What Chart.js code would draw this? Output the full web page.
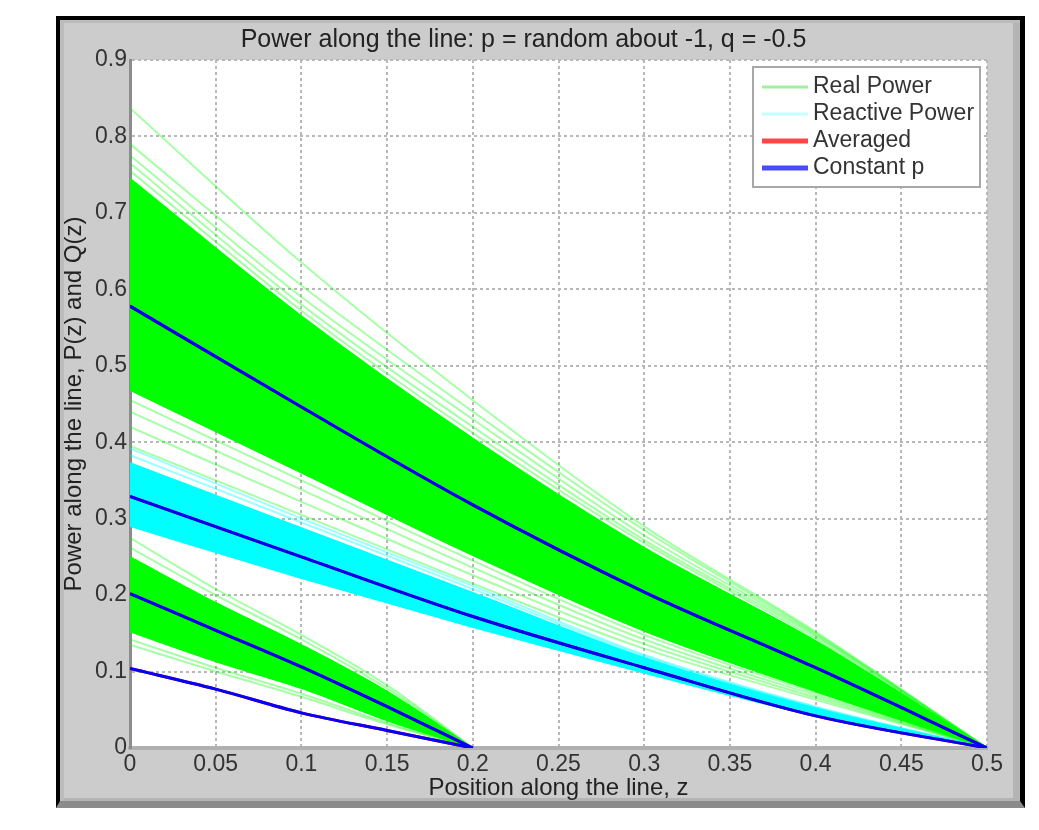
<!DOCTYPE html>
<html>
<head>
<meta charset="utf-8">
<script src="https://cdn.jsdelivr.net/npm/chart.js@4.4.1/dist/chart.umd.min.js"></script>
<style>
  html, body { margin: 0; padding: 0; background: #fff; }
  body { width: 1039px; height: 830px; position: relative; overflow: hidden; }
  #frame {
    position: absolute; left: 56px; top: 16px; width: 969px; height: 792px; box-sizing: border-box;
    background: #cccccc;
    border-left: 4px solid #000; border-top: 4px solid #000; border-right: 5px solid #000;
    border-bottom: 7px solid #8c8c8c;
    box-shadow: inset 4px 3px 0 #bcbcbc, inset -7px -3px 0 #b4b4b4;
  }
  #wrap { position: absolute; left: 0; top: 0; width: 1039px; height: 830px; }
</style>
</head>
<body>
<div id="frame"></div>
<div id="wrap"><canvas id="chart" width="1039" height="830"></canvas></div>
<script>
// positions along the line where values were read (long line ends at 0.5, short one at 0.2)
const zLong = [0, 0.1, 0.2, 0.3, 0.4, 0.5];
const zShort = [0, 0.05, 0.1, 0.15, 0.2];

const xTicks = [0, 0.05, 0.1, 0.15, 0.2, 0.25, 0.3, 0.35, 0.4, 0.45, 0.5];
const xTickLabels = ['0', '0.05', '0.1', '0.15', '0.2', '0.25', '0.3', '0.35', '0.4', '0.45', '0.5'];
const yTicks = [0, 0.1, 0.2, 0.3, 0.4, 0.5, 0.6, 0.7, 0.8, 0.9];
const yTickLabels = ['0', '0.1', '0.2', '0.3', '0.4', '0.5', '0.6', '0.7', '0.8', '0.9'];

const legendLabels = ['Real Power', 'Reactive Power', 'Averaged', 'Constant p'];

// constant load curves (blue), averaged curves sit underneath them
const constPLong = [0.578, 0.446, 0.318, 0.204, 0.105, 0];
const constQLong = [0.329, 0.250, 0.172, 0.105, 0.042, 0];
const constPShort = [0.202, 0.154, 0.106, 0.054, 0];
const constQShort = [0.104, 0.077, 0.046, 0.023, 0];

// reactive power band, long line
const reactTopLong = [0.373, 0.288, 0.203, 0.118, 0.052, 0];
const reactBotLong = [0.290, 0.222, 0.158, 0.098, 0.042, 0];
const reactEdge1 = [0.392, 0.300, 0.212, 0.122, 0.054, 0];
const reactEdge2 = [0.383, 0.295, 0.208, 0.120, 0.053, 0];

// real power band, long line (dense core + loose edge runs)
const realTopLong = [0.745, 0.565, 0.405, 0.262, 0.140, 0];
const realBotLong = [0.468, 0.360, 0.252, 0.153, 0.074, 0];
const realUp1 = [0.837, 0.635, 0.455, 0.290, 0.152, 0];
const realUp2 = [0.790, 0.605, 0.440, 0.285, 0.150, 0];
const realUp3 = [0.775, 0.590, 0.430, 0.278, 0.148, 0];
const realUp4 = [0.765, 0.580, 0.420, 0.272, 0.146, 0];
const realUp5 = [0.755, 0.572, 0.412, 0.268, 0.143, 0];
const realLo1 = [0.455, 0.350, 0.245, 0.148, 0.072, 0];
const realLo2 = [0.440, 0.338, 0.236, 0.142, 0.069, 0];
const realLo3 = [0.420, 0.322, 0.226, 0.136, 0.066, 0];
const realLo4 = [0.395, 0.305, 0.215, 0.130, 0.063, 0];

// real power band, short line
const realTopShort = [0.250, 0.190, 0.135, 0.074, 0];
const realBotShort = [0.152, 0.113, 0.078, 0.036, 0];
const realShortUp1 = [0.275, 0.208, 0.148, 0.082, 0];
const realShortUp2 = [0.262, 0.200, 0.142, 0.078, 0];
const realShortLo1 = [0.142, 0.105, 0.071, 0.033, 0];
const realShortLo2 = [0.135, 0.100, 0.067, 0.031, 0];

const FONT = '"Liberation Sans", Arial, Helvetica, sans-serif';
Chart.defaults.font.family = FONT;

const pts = (zs, ys) => zs.map((z, i) => ({ x: z, y: ys[i] }));

function line(zs, ys, color, width) {
  return {
    data: pts(zs, ys), borderColor: color, borderWidth: width,
    pointRadius: 0, fill: false, cubicInterpolationMode: 'monotone'
  };
}

function band(zs, ys, color) {
  return {
    data: pts(zs, ys), borderColor: color, backgroundColor: color, borderWidth: 1.5,
    pointRadius: 0, fill: '+1', cubicInterpolationMode: 'monotone'
  };
}

const BLUE = '#0000ff';
const RED = '#ff0000';
const CYAN = '#00ffff';
const CYAN_SOFT = 'rgba(0,255,255,0.4)';
const GREEN = '#00ff00';
const GREEN_SOFT = 'rgba(0,255,0,0.35)';

// first dataset is drawn on top
const datasets = [
  line(zLong, constPLong, BLUE, 3),
  line(zLong, constQLong, BLUE, 3),
  line(zShort, constPShort, BLUE, 3),
  line(zShort, constQShort, BLUE, 3),
  line(zLong, constPLong, RED, 3),
  line(zLong, constQLong, RED, 3),
  line(zShort, constPShort, RED, 3),
  line(zShort, constQShort, RED, 3),
  band(zLong, reactTopLong, CYAN),
  line(zLong, reactBotLong, CYAN, 1.5),
  line(zLong, reactEdge1, CYAN_SOFT, 2),
  line(zLong, reactEdge2, CYAN_SOFT, 2),
  line(zLong, realLo1, GREEN_SOFT, 2),
  line(zLong, realLo2, GREEN_SOFT, 2),
  line(zLong, realLo3, GREEN_SOFT, 2),
  line(zLong, realLo4, GREEN_SOFT, 2),
  band(zLong, realTopLong, GREEN),
  line(zLong, realBotLong, GREEN, 1.5),
  line(zLong, realUp1, GREEN_SOFT, 2),
  line(zLong, realUp2, GREEN_SOFT, 2),
  line(zLong, realUp3, GREEN_SOFT, 2),
  line(zLong, realUp4, GREEN_SOFT, 2),
  line(zLong, realUp5, GREEN_SOFT, 2),
  band(zShort, realTopShort, GREEN),
  line(zShort, realBotShort, GREEN, 1.5),
  line(zShort, realShortUp1, GREEN_SOFT, 2),
  line(zShort, realShortUp2, GREEN_SOFT, 2),
  line(zShort, realShortLo1, GREEN_SOFT, 2),
  line(zShort, realShortLo2, GREEN_SOFT, 2)
];

// white plot box behind everything
const plotBackground = {
  id: 'plotBackground',
  beforeDraw(chart) {
    const { ctx, chartArea: a } = chart;
    ctx.save();
    ctx.fillStyle = '#ffffff';
    ctx.fillRect(a.left, a.top, a.right - a.left, a.bottom - a.top);
    ctx.restore();
  }
};

// matlab style legend box in the top right corner
const legendColors = ['#9ef29e', '#c2ffff', '#ff4646', '#4a4aff'];
const legendWidths = [3, 3, 5, 5];
const legendBox = {
  id: 'legendBox',
  afterDraw(chart) {
    const { ctx, chartArea: a } = chart;
    const w = 227, h = 120;
    const x0 = a.right - 7 - w, y0 = a.top + 7;
    ctx.save();
    ctx.fillStyle = '#ffffff';
    ctx.fillRect(x0, y0, w, h);
    ctx.strokeStyle = '#a8a8a8';
    ctx.lineWidth = 2;
    ctx.strokeRect(x0, y0, w, h);
    ctx.font = '23px ' + FONT;
    ctx.textBaseline = 'middle';
    ctx.fillStyle = '#333333';
    legendLabels.forEach((t, i) => {
      const y = y0 + 20 + i * 27;
      ctx.strokeStyle = legendColors[i];
      ctx.lineWidth = legendWidths[i];
      ctx.beginPath();
      ctx.moveTo(x0 + 9, y);
      ctx.lineTo(x0 + 55, y);
      ctx.stroke();
      ctx.fillText(t, x0 + 60, y);
    });
    ctx.restore();
  }
};

new Chart(document.getElementById('chart'), {
  type: 'line',
  data: { datasets: datasets },
  options: {
    responsive: false,
    animation: false,
    layout: { padding: { left: 60, right: 52, top: 20, bottom: 22 } },
    plugins: {
      legend: { display: false },
      tooltip: { enabled: false },
      title: {
        display: true,
        text: 'Power along the line: p = random about -1, q = -0.5',
        color: '#222222',
        font: { size: 25, weight: 'normal' },
        padding: { top: 5, bottom: 5 }
      }
    },
    scales: {
      x: {
        type: 'linear',
        min: 0,
        max: 0.5,
        afterBuildTicks: s => { s.ticks = xTicks.map(v => ({ value: v })); },
        afterFit: s => { s.height = 60; },
        ticks: {
          callback: (v, i) => xTickLabels[i],
          color: '#333333',
          font: { size: 23 },
          padding: 3,
          maxRotation: 0,
          autoSkip: false
        },
        grid: { color: '#b8b8b8', lineWidth: 2, drawTicks: false },
        border: { color: '#b0b0b0', width: 4, dash: [3, 3] },
        title: {
          display: true,
          text: 'Position along the line, z',
          color: '#222222',
          font: { size: 24 },
          padding: { top: 0, bottom: 5 }
        }
      },
      y: {
        type: 'linear',
        min: 0,
        max: 0.9,
        afterBuildTicks: s => { s.ticks = yTicks.map(v => ({ value: v })); },
        afterFit: s => { s.width = 70; },
        ticks: {
          callback: (v, i) => yTickLabels[i],
          color: '#333333',
          font: { size: 23 },
          padding: 3,
          autoSkip: false
        },
        grid: { color: '#b8b8b8', lineWidth: 2, drawTicks: false },
        border: { color: '#8c8c8c', width: 3, dash: [3, 3] },
        title: {
          display: true,
          text: 'Power along the line, P(z) and Q(z)',
          color: '#222222',
          font: { size: 24 },
          padding: { top: 0, bottom: 0 }
        }
      }
    }
  },
  plugins: [plotBackground, legendBox]
});
</script>
</body>
</html>
